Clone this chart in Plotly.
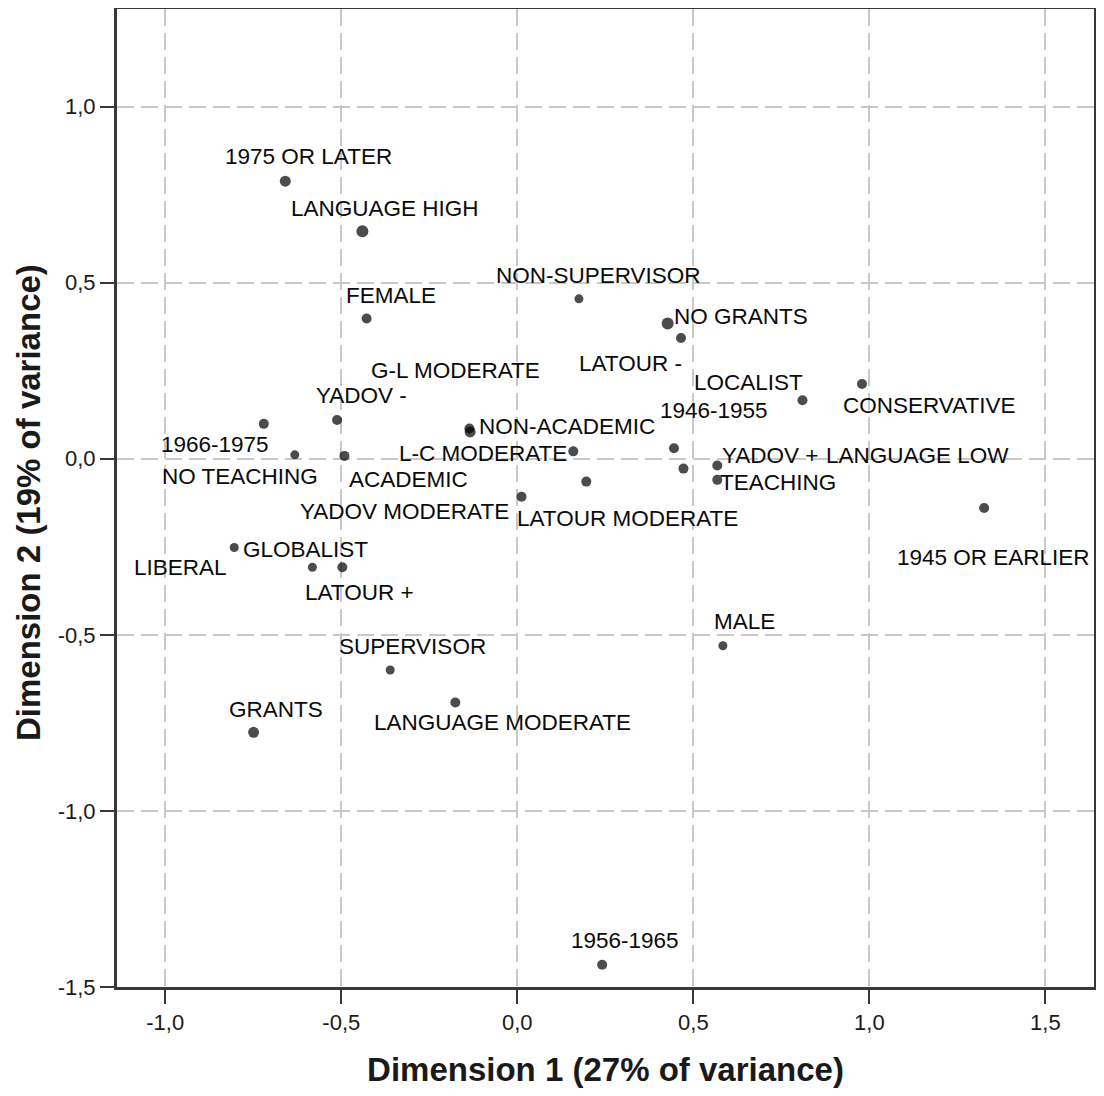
import plotly.graph_objects as go

# category points (dimension 1, dimension 2)
categories = [
    "1975 OR LATER", "LANGUAGE HIGH", "FEMALE", "NON-SUPERVISOR", "NO GRANTS",
    "LATOUR -", "CONSERVATIVE", "LOCALIST", "1946-1955", "LANGUAGE LOW",
    "YADOV +", "TEACHING", "L-C MODERATE", "LATOUR MODERATE", "YADOV MODERATE",
    "1945 OR EARLIER", "1966-1975", "YADOV -", "G-L MODERATE", "NON-ACADEMIC",
    "NO TEACHING", "ACADEMIC", "GLOBALIST", "LIBERAL", "LATOUR +",
    "SUPERVISOR", "LANGUAGE MODERATE", "GRANTS", "MALE", "1956-1965",
]
dim1 = [
    -0.659, -0.440, -0.428, 0.175, 0.427,
    0.465, 0.979, 0.810, 0.445, 0.472,
    0.568, 0.568, 0.159, 0.196, 0.012,
    1.326, -0.720, -0.512, -0.136, -0.134,
    -0.632, -0.491, -0.804, -0.582, -0.497,
    -0.361, -0.176, -0.749, 0.584, 0.241,
]
dim2 = [
    0.788, 0.646, 0.398, 0.454, 0.384,
    0.343, 0.212, 0.166, 0.030, -0.028,
    -0.019, -0.060, 0.021, -0.065, -0.108,
    -0.140, 0.099, 0.110, 0.086, 0.076,
    0.011, 0.008, -0.252, -0.308, -0.308,
    -0.600, -0.692, -0.777, -0.531, -1.437,
]

x_ticks = [-1.0, -0.5, 0.0, 0.5, 1.0, 1.5]
x_ticktext = ["-1,0", "-0,5", "0,0", "0,5", "1,0", "1,5"]
y_ticks = [-1.5, -1.0, -0.5, 0.0, 0.5, 1.0]
y_ticktext = ["-1,5", "-1,0", "-0,5", "0,0", "0,5", "1,0"]

x_title = "Dimension 1 (27% of variance)"
y_title = "Dimension 2 (19% of variance)"

# label placement relative to its point (px, right / down)
label_dx = [23, 23, 24, 20, 73, -51, 68, -54, 40, 234,
            53, 61, -90, 41, -117, 9, -49, 24, -14, 97,
            -55, 64, 71, -132, 17, 22, 47, 22, 22, 23]
label_dy = [-25, -23, -23, -23, -7, 26, 21, -18, -38, -13,
            -10, 3, 2, 37, 15, 49, 21, -24, -58, -5,
            22, 24, 2, 0, 25, -24, 20, -23, -24, -24]
marker_size = [11, 12, 10, 9, 12, 10, 10, 10, 10, 10,
               10, 10, 10, 10, 10, 10, 10, 10, 10, 11,
               9, 10, 9, 9, 10, 9, 10, 11, 9, 10]

fig = go.Figure(go.Scatter(
    x=dim1, y=dim2, mode="markers",
    marker=dict(color="black", size=marker_size, line=dict(width=0)),
    hovertext=categories, hoverinfo="text",
))

for name, x, y, dx, dy in zip(categories, dim1, dim2, label_dx, label_dy):
    fig.add_annotation(x=x, y=y, text=name, showarrow=False,
                       xshift=dx, yshift=-dy, xanchor="center", yanchor="middle",
                       font=dict(family="Liberation Sans, Arial", size=22.5, color="#0a0a0a"))

title_font = dict(family="Liberation Sans, Arial", size=33, color="#1a1a1a", weight="bold")

# y title as an annotation so it can sit closer to the page edge
fig.add_annotation(xref="paper", yref="paper", x=0, y=0.5, text=y_title,
                   showarrow=False, textangle=-90, xanchor="center", yanchor="middle",
                   xshift=-89, yshift=-5, font=title_font)

axis_style = dict(
    showgrid=True, gridcolor="#c8c8c8", gridwidth=1.5, griddash="17px,7px",
    zeroline=False, showline=True, linecolor="#383838", linewidth=3, mirror=True,
    ticks="outside", ticklen=14, tickwidth=2, tickcolor="#383838", automargin=False,
    tickfont=dict(family="Liberation Sans, Arial", size=22, color="#1a1a1a"),
)

fig.update_xaxes(
    range=[-1.137, 1.638], tickvals=x_ticks, ticktext=x_ticktext, **axis_style,
    title=dict(text=x_title, standoff=32, font=title_font),
)
fig.update_yaxes(
    range=[-1.5, 1.277], tickvals=y_ticks, ticktext=y_ticktext, **axis_style,
)

fig.update_layout(
    width=1088, height=1080,
    margin=dict(l=109, r=2, t=1, b=101),
    plot_bgcolor="white", paper_bgcolor="white",
    showlegend=False,
)

fig.write_html("out.html")
